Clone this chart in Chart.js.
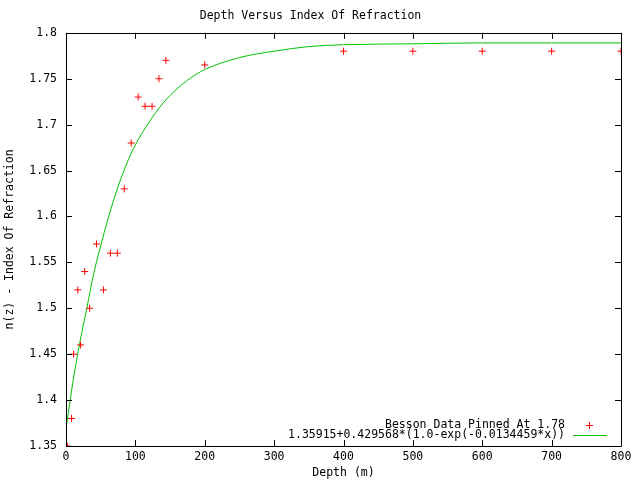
<!DOCTYPE html>
<html>
<head>
<meta charset="utf-8">
<script src="https://cdn.jsdelivr.net/npm/chart.js@4"></script>
<style>
  html, body { margin: 0; padding: 0; background: #fff; }
  #wrap { width: 640px; height: 480px; }
</style>
</head>
<body>
<div id="wrap"><canvas id="refChart" width="640" height="480"></canvas></div>
<script>
// measured data (Besson, pinned at 1.78)
const depths = [2, 8, 11, 17, 21, 27, 34, 44, 54, 64, 74, 84, 94, 104, 114, 124, 134, 144, 200, 400, 500, 600, 700, 800];
const indexValues = [1.35, 1.38, 1.45, 1.52, 1.46, 1.54, 1.50, 1.57, 1.52, 1.56, 1.56, 1.63, 1.68, 1.73, 1.72, 1.72, 1.75, 1.77, 1.765, 1.78, 1.78, 1.78, 1.78, 1.78];

// fitted curve
const fitDepths = [1, 10, 20, 30, 40, 50, 60, 70, 80, 90, 100, 120, 140, 160, 180, 200, 250, 300, 350, 400, 500, 600, 700, 800];
const fitValues = [1.374, 1.42, 1.463, 1.50, 1.538, 1.568, 1.596, 1.621, 1.643, 1.662, 1.678, 1.703, 1.7235, 1.739, 1.751, 1.760, 1.773, 1.780, 1.785, 1.787, 1.788, 1.789, 1.789, 1.789];

const xTicks = [0, 100, 200, 300, 400, 500, 600, 700, 800];
const yTicks = [1.35, 1.4, 1.45, 1.5, 1.55, 1.6, 1.65, 1.7, 1.75, 1.8];

const FONT = "'DejaVu Sans Mono', 'Liberation Mono', monospace";
const FONT_SIZE = 11.5;
const RED = '#ff0000';
const GREEN = '#00c000';

// gnuplot style frame: box round the plot, ticks pointing inward on all sides
const framePlugin = {
    id: 'frame',
    afterDatasetsDraw(chart) {
        const {ctx, chartArea: a, scales} = chart;
        ctx.save();
        ctx.strokeStyle = '#000';
        ctx.lineWidth = 1;
        ctx.beginPath();
        ctx.rect(Math.round(a.left) + 0.5, Math.round(a.top) + 0.5,
                 Math.round(a.right - a.left), Math.round(a.bottom - a.top));
        ctx.stroke();

        const len = 6;
        ctx.beginPath();
        scales.x.ticks.forEach(t => {
            const px = Math.round(scales.x.getPixelForValue(t.value)) + 0.5;
            ctx.moveTo(px, a.bottom); ctx.lineTo(px, a.bottom - len);
            ctx.moveTo(px, a.top); ctx.lineTo(px, a.top + len);
        });
        scales.y.ticks.forEach(t => {
            const py = Math.round(scales.y.getPixelForValue(t.value)) + 0.5;
            ctx.moveTo(a.left, py); ctx.lineTo(a.left + len, py);
            ctx.moveTo(a.right, py); ctx.lineTo(a.right - len, py);
        });
        ctx.stroke();
        ctx.restore();
    }
};

// key in the lower right corner, text right aligned with sample after it
const keyPlugin = {
    id: 'key',
    afterDraw(chart) {
        const {ctx, chartArea: a} = chart;
        const sets = chart.data.datasets;
        const right = Math.round(a.right);
        const bottom = Math.round(a.bottom);
        const rowY = [bottom - 21, bottom - 11];
        ctx.save();
        ctx.font = FONT_SIZE + 'px ' + FONT;
        ctx.fillStyle = '#000';
        ctx.textAlign = 'right';
        ctx.textBaseline = 'middle';
        sets.forEach((ds, i) => {
            ctx.fillText(ds.label, right - 56, rowY[i]);
        });
        // point sample
        const sx = right - 32, sy = rowY[0];
        ctx.fillStyle = RED;
        ctx.fillRect(sx - 3, sy, 7, 1);
        ctx.fillRect(sx, sy - 3, 1, 7);
        // line sample
        ctx.fillStyle = GREEN;
        ctx.fillRect(right - 48, rowY[1], 34, 1);
        ctx.restore();
    }
};

Chart.defaults.font.family = FONT;
Chart.defaults.font.size = FONT_SIZE;
Chart.defaults.color = '#000';

const ctx = document.getElementById('refChart');
new Chart(ctx, {
    type: 'scatter',
    data: {
        datasets: [
            {
                label: 'Besson Data Pinned At 1.78',
                data: depths.map((d, i) => ({x: d, y: indexValues[i]})),
                borderColor: RED,
                backgroundColor: RED,
                pointStyle: 'cross',
                pointRadius: 3.5,
                pointHoverRadius: 3.5,
                borderWidth: 1,
                clip: 0,
                order: 1
            },
            {
                type: 'line',
                label: '1.35915+0.429568*(1.0-exp(-0.0134459*x))',
                data: fitDepths.map((d, i) => ({x: d, y: fitValues[i]})),
                borderColor: GREEN,
                backgroundColor: GREEN,
                borderWidth: 1,
                pointRadius: 0,
                cubicInterpolationMode: 'monotone',
                fill: false,
                clip: 0,
                order: 2
            }
        ]
    },
    options: {
        responsive: false,
        animation: false,
        layout: {
            padding: {top: 0, right: 19, bottom: 0, left: 0}
        },
        plugins: {
            legend: {display: false},
            tooltip: {enabled: false},
            title: {
                display: true,
                text: 'Depth Versus Index Of Refraction',
                color: '#000',
                font: {size: FONT_SIZE, weight: 'normal', family: FONT},
                padding: {top: 9, bottom: 10}
            }
        },
        scales: {
            x: {
                type: 'linear',
                min: 0,
                max: 800,
                afterBuildTicks: scale => {
                    scale.ticks = xTicks.map(v => ({value: v}));
                },
                afterFit: scale => { scale.height = 34; },
                ticks: {
                    color: '#000',
                    padding: 4,
                    maxRotation: 0,
                    callback: v => String(v)
                },
                grid: {display: false, drawTicks: false},
                border: {display: false},
                title: {
                    display: true,
                    text: 'Depth (m)',
                    color: '#000',
                    padding: 0
                }
            },
            y: {
                type: 'linear',
                min: 1.35,
                max: 1.8,
                afterBuildTicks: scale => {
                    scale.ticks = yTicks.map(v => ({value: v}));
                },
                afterFit: scale => { scale.width = 66; },
                ticks: {
                    color: '#000',
                    padding: 9,
                    callback: v => String(parseFloat(Number(v).toFixed(2)))
                },
                grid: {display: false, drawTicks: false},
                border: {display: false},
                title: {
                    display: true,
                    text: 'n(z) - Index Of Refraction',
                    color: '#000',
                    padding: {top: 3, bottom: 0}
                }
            }
        }
    },
    plugins: [framePlugin, keyPlugin]
});
</script>
</body>
</html>
